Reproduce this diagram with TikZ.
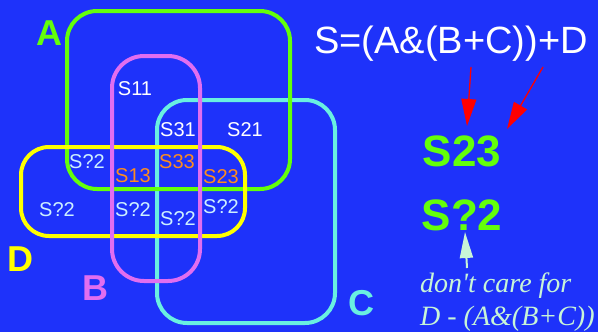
\documentclass[tikz,border=0pt]{standalone}
\usepackage{fontspec}
\setmainfont{Liberation Sans}
\newfontfamily\notefont{Liberation Serif}
\usetikzlibrary{arrows.meta}
\definecolor{bg}{RGB}{30,50,250}
\definecolor{setA}{RGB}{100,255,10}
\definecolor{setB}{RGB}{225,110,240}
\definecolor{setC}{RGB}{105,240,225}
\definecolor{setD}{RGB}{255,255,0}
\definecolor{dc}{RGB}{205,240,255}
\definecolor{hit}{RGB}{255,140,30}
\definecolor{pale}{RGB}{200,245,215}
\begin{document}
\begin{tikzpicture}[x=1pt,y=-1pt,
  setbox/.style={line width=4pt},
  biglabel/.style={font=\fontsize{36}{36}\selectfont\bfseries, inner sep=0pt},
  cell/.style={font=\fontsize{20}{20}\selectfont, anchor=base, inner sep=0pt},
  result/.style={font=\fontsize{44}{44}\selectfont\bfseries, text=setA, anchor=base, inner sep=0pt},
  redarrow/.style={red, line width=1.3pt, -{Triangle[length=27pt,width=15pt]}},
  palearrow/.style={pale, line width=2pt, -{Triangle[length=26pt,width=13pt]}}]
\fill[bg] (0,0) rectangle (598,332);
\useasboundingbox (0,0) rectangle (598,332);

% the four sets
\draw[setbox, setC, rounded corners=30pt] (157,100) rectangle (335,323);
\draw[setbox, setA, rounded corners=30pt] (67,11) rectangle (290,189);
\draw[setbox, setD, rounded corners=28pt] (21,147) rectangle (245,236);
\draw[setbox, setB, rounded corners=32pt] (112,56) rectangle (200,281);

% set names
\node[biglabel, text=setA] (labA) at (49,33) {A};
\node[biglabel, text=setD] (labD) at (20,259) {D};
\node[biglabel, text=setB] (labB) at (95,288) {B};
\node[biglabel, text=setC] (labC) at (361,303) {C};

% region labels
\node[cell, text=white] (s11) at (135,95) {S11};
\node[cell, text=white] (s31) at (178,136) {S31};
\node[cell, text=white] (s21) at (245,136) {S21};
\node[cell, text=dc] (x1) at (87,168) {S?2};
\node[cell, text=hit] (s13) at (133,182) {S13};
\node[cell, text=hit] (s33) at (177,168) {S33};
\node[cell, text=hit] (s23) at (221,183) {S23};
\node[cell, text=dc] (x2) at (57,216) {S?2};
\node[cell, text=dc] (x3) at (133,216) {S?2};
\node[cell, text=dc] (x4) at (178,225) {S?2};
\node[cell, text=dc] (x5) at (221,213) {S?2};

% expression and results
\node[font=\fontsize{38}{38}\selectfont, text=white, anchor=base, inner sep=0pt] (expr) at (451,53) {S=(A\&(B+C))+D};
\node[result] (r23) at (462,166) {S23};
\node[result] (r22) at (462,230) {S?2};

\coordinate (e1) at (471,67);
\coordinate (t1) at (467,126);
\coordinate (e2) at (543,67);
\coordinate (t2) at (507,129);
\draw[redarrow] (e1) -- (t1);
\draw[redarrow] (e2) -- (t2);

% note about don't-care regions
\node[font=\notefont\itshape\fontsize{28}{28}\selectfont, text=pale, anchor=base west, inner sep=0pt] (note1) at (420,292) {don't care for};
\node[font=\notefont\itshape\fontsize{28}{28}\selectfont, text=pale, anchor=base west, inner sep=0pt] (note2) at (420,325) {D - (A\&(B+C))};
\coordinate (p1) at (467,268);
\coordinate (p2) at (465,232);
\draw[palearrow] (p1) -- (p2);
\end{tikzpicture}
\end{document}
